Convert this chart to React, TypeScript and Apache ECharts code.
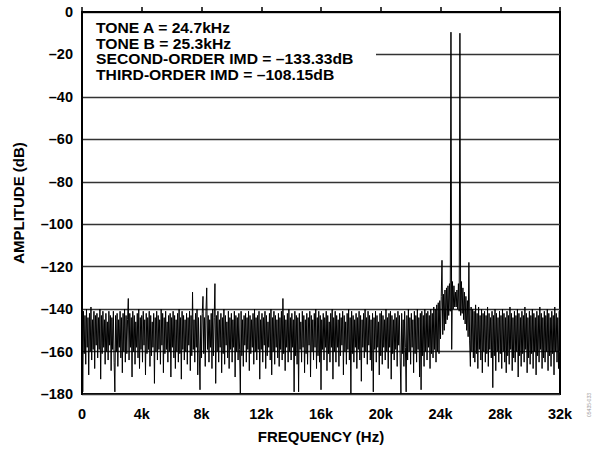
import React, { useEffect, useRef } from 'react';
import * as echarts from 'echarts';

// FFT bin spacing (Hz) and the spectrum values, one per bin (0 Hz .. 32 kHz)
const BIN_HZ = 50;
const spectrumDb: number[] = [
  -137, -179, -141, -161, -143, -166, -140, -158, -144, -171, -142, -160, -139, -164, -145, -159, -141, -168, -143, -157, // 0k
  -142, -163, -144, -159, -140, -173, -143, -161, -141, -158, -145, -166, -142, -160, -146, -164, -141, -157, -143, -169, // 1k
  -144, -159, -141, -165, -179, -143, -160, -142, -167, -145, -158, -141, -163, -144, -170, -142, -160, -140, -165, -143, // 2k
  -161, -145, -135, -164, -142, -158, -144, -172, -141, -160, -143, -166, -146, -158, -142, -163, -140, -168, -144, -159, // 3k
  -143, -165, -141, -157, -145, -171, -142, -161, -144, -159, -141, -167, -143, -162, -146, -158, -142, -175, -144, -160, // 4k
  -141, -164, -143, -159, -145, -166, -140, -157, -142, -170, -144, -161, -141, -159, -146, -165, -143, -160, -142, -172, // 5k
  -144, -158, -141, -163, -143, -168, -145, -160, -142, -165, -140, -161, -144, -173, -141, -159, -143, -164, -145, -160, // 6k
  -142, -166, -144, -157, -141, -169, -143, -162, -132, -159, -145, -165, -142, -158, -140, -171, -144, -160, -178, -143, // 7k
  -163, -142, -134, -161, -144, -167, -141, -130, -159, -143, -165, -145, -158, -142, -168, -140, -162, -144, -128, -175, // 8k
  -143, -160, -141, -165, -145, -158, -142, -170, -144, -161, -140, -166, -143, -157, -146, -163, -141, -168, -144, -159, // 9k
  -142, -165, -145, -158, -141, -172, -143, -160, -144, -164, -142, -159, -180, -141, -162, -145, -167, -143, -157, -142, // 10k
  -165, -144, -159, -141, -169, -143, -161, -145, -158, -142, -166, -140, -160, -144, -164, -143, -159, -141, -173, -145, // 11k
  -159, -142, -165, -144, -157, -141, -168, -143, -162, -146, -158, -142, -164, -140, -171, -144, -160, -141, -166, -143, // 12k
  -158, -145, -163, -142, -167, -144, -159, -141, -164, -135, -161, -143, -169, -145, -158, -142, -165, -140, -160, -144, // 13k
  -164, -142, -158, -145, -179, -141, -162, -143, -166, -144, -179, -142, -159, -146, -165, -141, -158, -143, -170, -145, // 14k
  -161, -142, -166, -144, -157, -141, -172, -143, -160, -145, -164, -142, -158, -140, -168, -144, -162, -141, -165, -143, // 15k
  -178, -145, -159, -142, -164, -144, -158, -141, -169, -143, -161, -146, -165, -142, -158, -140, -173, -144, -160, -141, // 16k
  -165, -143, -158, -145, -167, -142, -162, -144, -157, -141, -171, -143, -160, -146, -166, -142, -159, -140, -164, -144, // 17k
  -180, -141, -161, -143, -165, -145, -158, -142, -168, -144, -159, -141, -164, -143, -174, -145, -158, -142, -163, -140, // 18k
  -160, -144, -166, -141, -157, -143, -164, -145, -169, -142, -179, -144, -159, -141, -165, -143, -158, -146, -171, -142, // 19k
  -162, -141, -166, -143, -158, -145, -164, -140, -160, -144, -168, -142, -158, -141, -173, -143, -161, -145, -164, -142, // 20k
  -159, -144, -167, -141, -157, -143, -163, -180, -142, -161, -145, -167, -141, -158, -179, -143, -164, -140, -160, -144, // 21k
  -166, -142, -158, -145, -170, -141, -161, -143, -165, -140, -159, -144, -172, -142, -178, -141, -162, -143, -167, -140, // 22k
  -160, -142, -164, -141, -158, -143, -168, -140, -161, -142, -163, -139, -159, -140, -165, -138, -160, -137, -161, -136, // 23k
  -154, -134, -117, -152, -133, -150, -131, -147, -130, -145, -129, -143, -128, -141, -9.5, -159, -127, -140, -129, -139, // 24k (tone A 24.7k)
  -132, -139, -131, -140, -128, -141, -10, -143, -127, -142, -130, -145, -132, -147, -134, -150, -136, -153, -118, -155, // 25k (tone B 25.3k)
  -167, -139, -160, -140, -163, -141, -165, -138, -161, -142, -168, -139, -159, -143, -164, -140, -170, -142, -160, -141, // 26k
  -165, -143, -161, -139, -167, -142, -159, -144, -163, -141, -177, -143, -162, -140, -169, -142, -160, -144, -165, -141, // 27k
  -161, -143, -168, -140, -160, -142, -165, -144, -170, -141, -162, -143, -166, -139, -159, -142, -169, -144, -163, -141, // 28k
  -165, -143, -160, -140, -172, -142, -162, -144, -167, -141, -161, -143, -165, -139, -159, -142, -170, -144, -163, -141, // 29k
  -166, -143, -161, -140, -168, -142, -160, -144, -171, -141, -162, -143, -165, -139, -159, -142, -168, -144, -163, -141, // 30k
  -165, -143, -160, -140, -169, -142, -162, -144, -167, -141, -161, -143, -171, -139, -160, -142, -165, -144, -168, -141, // 31k
  -160, // 32k
];

const xTickValues = [0, 4000, 8000, 12000, 16000, 20000, 24000, 28000, 32000];
const xTickLabels = ['0', '4k', '8k', '12k', '16k', '20k', '24k', '28k', '32k'];
const yTickValues = [0, -20, -40, -60, -80, -100, -120, -140, -160, -180];
const yTickLabels = ['0', '–20', '–40', '–60', '–80', '–100', '–120', '–140', '–160', '–180'];
const annotationLines = [
  'TONE A = 24.7kHz',
  'TONE B = 25.3kHz',
  'SECOND-ORDER IMD = –133.33dB',
  'THIRD-ORDER IMD = –108.15dB',
];
const xAxisTitle = 'FREQUENCY (Hz)';
const yAxisTitle = 'AMPLITUDE (dB)';
const figureId = '05435-033';

export default function App() {
  const ref = useRef<HTMLDivElement>(null);

  useEffect(() => {
    if (!ref.current) return;
    const chart = echarts.init(ref.current, null, { renderer: 'svg' });
    const FONT = '"Liberation Sans", Arial, Helvetica, sans-serif';
    const data = spectrumDb.map((v, i) => [i * BIN_HZ, v]);

    chart.setOption({
      animation: false,
      backgroundColor: '#fff',
      textStyle: { fontFamily: FONT },
      grid: {
        left: 82,
        right: 32,
        top: 12,
        bottom: 56,
        show: true,
        borderColor: '#000',
        borderWidth: 2,
        backgroundColor: 'transparent',
      },
      xAxis: {
        type: 'value',
        min: 0,
        max: 32000,
        interval: 4000,
        name: xAxisTitle,
        nameLocation: 'middle',
        nameGap: 35,
        nameTextStyle: { fontFamily: FONT, fontWeight: 'bold', fontSize: 15, color: '#000' },
        axisLine: { show: true, lineStyle: { color: '#000', width: 2 } },
        axisTick: { show: true, inside: true, length: 5, lineStyle: { color: '#000', width: 1.5 } },
        axisLabel: {
          margin: 12,
          fontFamily: FONT,
          fontWeight: 'bold',
          fontSize: 14.5,
          color: '#000',
          formatter: (v: number) => {
            const i = xTickValues.indexOf(v);
            return i >= 0 ? xTickLabels[i] : '';
          },
        },
        splitLine: { show: false },
      },
      yAxis: {
        type: 'value',
        min: -180,
        max: 0,
        interval: 20,
        name: yAxisTitle,
        nameLocation: 'middle',
        nameGap: 56,
        nameRotate: 90,
        nameTextStyle: { fontFamily: FONT, fontWeight: 'bold', fontSize: 15, color: '#000' },
        axisLine: { show: true, lineStyle: { color: '#000', width: 2 } },
        axisTick: { show: false },
        axisLabel: {
          margin: 9,
          fontFamily: FONT,
          fontWeight: 'bold',
          fontSize: 14.5,
          color: '#000',
          formatter: (v: number) => {
            const i = yTickValues.indexOf(v);
            return i >= 0 ? yTickLabels[i] : '';
          },
        },
        splitLine: { show: true, lineStyle: { color: '#333', width: 1.3 } },
      },
      series: [
        {
          type: 'line',
          data,
          symbol: 'none',
          showSymbol: false,
          silent: true,
          z: 3,
          lineStyle: { color: '#000', width: 1 },
        },
      ],
      graphic: [
        {
          type: 'group',
          z: 100,
          children: [
            {
              type: 'rect',
              z: 100,
              shape: { x: 83, y: 14, width: 293, height: 70 },
              style: { fill: '#fff' },
            },
            ...annotationLines.map((t, i) => ({
              type: 'text',
              z: 101,
              x: 96,
              y: 28 + i * 15.8,
              scaleX: 1.12,
              style: {
                text: t,
                font: `bold 14px ${FONT}`,
                fill: '#000',
                align: 'left',
                verticalAlign: 'middle',
              },
            })),
          ],
        },
        {
          type: 'text',
          z: 100,
          x: 589,
          y: 405,
          rotation: Math.PI / 2,
          style: {
            text: figureId,
            font: `5px ${FONT}`,
            fill: '#999',
            align: 'center',
            verticalAlign: 'middle',
          },
        },
      ],
    });

    return () => chart.dispose();
  }, []);

  return (
    <div
      ref={ref}
      style={{ position: 'fixed', left: 0, top: 0, width: 592, height: 450, background: '#fff' }}
    />
  );
}
